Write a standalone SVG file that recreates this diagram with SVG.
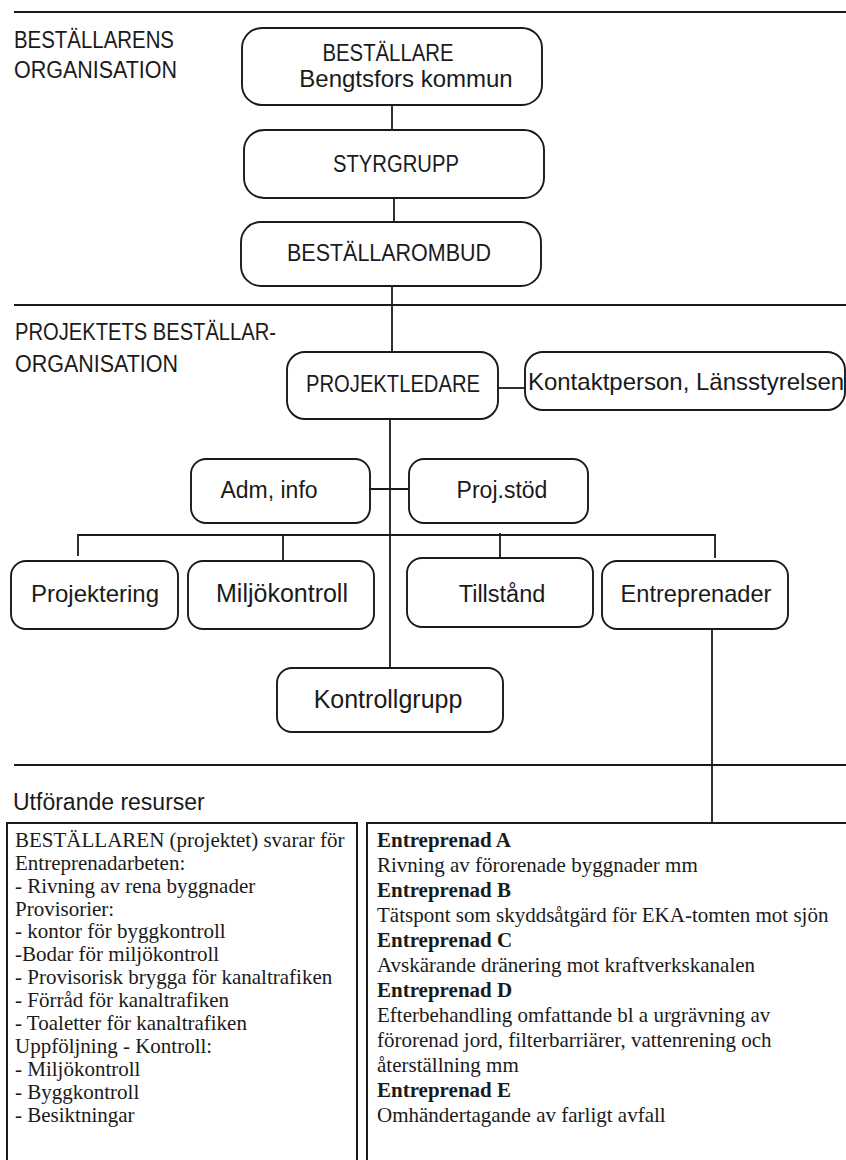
<svg xmlns="http://www.w3.org/2000/svg" width="846" height="1160" viewBox="0 0 846 1160">
<style>
.bg{fill:#fff}
.sep{stroke:#1a1a1a;stroke-width:2;fill:none}
.box{fill:#fff;stroke:#1a1a1a;stroke-width:1.9}
.con{stroke:#1a1a1a;stroke-width:1.8;fill:none}
.hd{font-family:"Liberation Sans",Arial,sans-serif;font-size:23px;fill:#1a1a1a}
.cap{font-family:"Liberation Sans",Arial,sans-serif;font-size:23px;fill:#1a1a1a;text-anchor:middle}
.lab{font-family:"Liberation Sans",Arial,sans-serif;font-size:24px;fill:#1a1a1a;text-anchor:middle}
.tb{fill:#fff;stroke:#1a1a1a;stroke-width:2}
.tx{font-family:"Liberation Serif","Times New Roman",serif;font-size:21px;fill:#1a1a1a}
.b{font-weight:bold}
</style>
<rect class="bg" x="0" y="0" width="846" height="1160"/>

<g id="separators">
<line class="sep" x1="14" y1="12" x2="846" y2="12"/>
<line class="sep" x1="14" y1="305" x2="846" y2="305"/>
<line class="sep" x1="14" y1="765" x2="846" y2="765"/>
</g>

<g id="section-labels">
<text class="hd" x="14" y="48" textLength="160" lengthAdjust="spacingAndGlyphs">BESTÄLLARENS</text>
<text class="hd" x="14" y="78" textLength="163" lengthAdjust="spacingAndGlyphs">ORGANISATION</text>
<text class="hd" x="15" y="340" textLength="261" lengthAdjust="spacingAndGlyphs">PROJEKTETS BESTÄLLAR-</text>
<text class="hd" x="15" y="372" textLength="163" lengthAdjust="spacingAndGlyphs">ORGANISATION</text>
<text class="hd" x="13" y="810">Utförande resurser</text>
</g>

<g id="connectors">
<line class="con" x1="392" y1="105" x2="392" y2="130"/>
<line class="con" x1="394" y1="198" x2="394" y2="222"/>
<line class="con" x1="392" y1="286" x2="392" y2="352"/>
<line class="con" x1="498" y1="388" x2="525" y2="388"/>
<line class="con" x1="390" y1="419" x2="390" y2="668"/>
<line class="con" x1="370" y1="489" x2="409" y2="489"/>
<polyline class="con" points="78,556 78,535 715,535 715,558"/>
<line class="con" x1="283" y1="535" x2="283" y2="561"/>
<line class="con" x1="500" y1="533" x2="500" y2="558"/>
<line class="con" x1="712" y1="629" x2="712" y2="823"/>
</g>

<g id="n-bestallare">
<rect class="box" x="242" y="28" width="300" height="77" rx="20"/>
<text class="cap" x="388" y="61" textLength="131" lengthAdjust="spacingAndGlyphs">BESTÄLLARE</text>
<text class="lab" x="406" y="87">Bengtsfors kommun</text>
</g>
<g id="n-styrgrupp">
<rect class="box" x="244" y="130" width="300" height="68" rx="20"/>
<text class="cap" x="396" y="172" textLength="126" lengthAdjust="spacingAndGlyphs">STYRGRUPP</text>
</g>
<g id="n-bestallarombud">
<rect class="box" x="241" y="222" width="300" height="64" rx="20"/>
<text class="cap" x="389" y="261" textLength="204" lengthAdjust="spacingAndGlyphs">BESTÄLLAROMBUD</text>
</g>
<g id="n-projektledare">
<rect class="box" x="287" y="352" width="211" height="67" rx="18"/>
<text class="cap" x="393" y="392" textLength="174" lengthAdjust="spacingAndGlyphs">PROJEKTLEDARE</text>
</g>
<g id="n-kontaktperson">
<rect class="box" x="525" y="352" width="320" height="58" rx="18"/>
<text class="lab" x="686" y="390">Kontaktperson, Länsstyrelsen</text>
</g>
<g id="n-adm">
<rect class="box" x="191" y="459" width="179" height="64" rx="15"/>
<text class="lab" x="269" y="498" style="font-size:23px">Adm, info</text>
</g>
<g id="n-projstod">
<rect class="box" x="409" y="459" width="179" height="64" rx="15"/>
<text class="lab" x="502" y="498" style="font-size:23px">Proj.stöd</text>
</g>
<g id="n-projektering">
<rect class="box" x="11" y="561" width="167" height="68" rx="15"/>
<text class="lab" x="95" y="602">Projektering</text>
</g>
<g id="n-miljokontroll">
<rect class="box" x="188" y="561" width="186" height="68" rx="15"/>
<text class="lab" x="282" y="602" style="font-size:25px">Miljökontroll</text>
</g>
<g id="n-tillstand">
<rect class="box" x="407" y="558" width="186" height="69" rx="15"/>
<text class="lab" x="502" y="602" style="font-size:23.5px">Tillstånd</text>
</g>
<g id="n-entreprenader">
<rect class="box" x="602" y="561" width="186" height="68" rx="15"/>
<text class="lab" x="696" y="602" style="font-size:23.6px">Entreprenader</text>
</g>
<g id="n-kontrollgrupp">
<rect class="box" x="277" y="668" width="226" height="64" rx="15"/>
<text class="lab" x="388" y="708" style="font-size:25px">Kontrollgrupp</text>
</g>

<g id="n-bestallaren-resurser">
<polyline class="tb" points="7,1162 7,823 357,823 357,1162"/>
<text class="tx" x="15" y="847">BESTÄLLAREN (projektet) svarar för</text>
<text class="tx" x="15" y="870">Entreprenadarbeten:</text>
<text class="tx" x="15" y="893">- Rivning av rena byggnader</text>
<text class="tx" x="15" y="916">Provisorier:</text>
<text class="tx" x="15" y="938">- kontor för byggkontroll</text>
<text class="tx" x="15" y="961">-Bodar för miljökontroll</text>
<text class="tx" x="15" y="984">- Provisorisk brygga för kanaltrafiken</text>
<text class="tx" x="15" y="1007">- Förråd för kanaltrafiken</text>
<text class="tx" x="15" y="1030">- Toaletter för kanaltrafiken</text>
<text class="tx" x="15" y="1053">Uppföljning - Kontroll:</text>
<text class="tx" x="15" y="1076">- Miljökontroll</text>
<text class="tx" x="15" y="1099">- Byggkontroll</text>
<text class="tx" x="15" y="1122">- Besiktningar</text>
</g>

<g id="n-entreprenader-resurser">
<polyline class="tb" points="367,1162 367,823 848,823"/>
<text class="tx b" x="377" y="847">Entreprenad A</text>
<text class="tx" x="377" y="872">Rivning av förorenade byggnader mm</text>
<text class="tx b" x="377" y="897">Entreprenad B</text>
<text class="tx" x="377" y="922">Tätspont som skyddsåtgärd för EKA-tomten mot sjön</text>
<text class="tx b" x="377" y="947">Entreprenad C</text>
<text class="tx" x="377" y="972">Avskärande dränering mot kraftverkskanalen</text>
<text class="tx b" x="377" y="997">Entreprenad D</text>
<text class="tx" x="377" y="1022">Efterbehandling omfattande bl a urgrävning av</text>
<text class="tx" x="377" y="1047">förorenad jord, filterbarriärer, vattenrening och</text>
<text class="tx" x="377" y="1072">återställning mm</text>
<text class="tx b" x="377" y="1097">Entreprenad E</text>
<text class="tx" x="377" y="1122">Omhändertagande av farligt avfall</text>
</g>
</svg>
